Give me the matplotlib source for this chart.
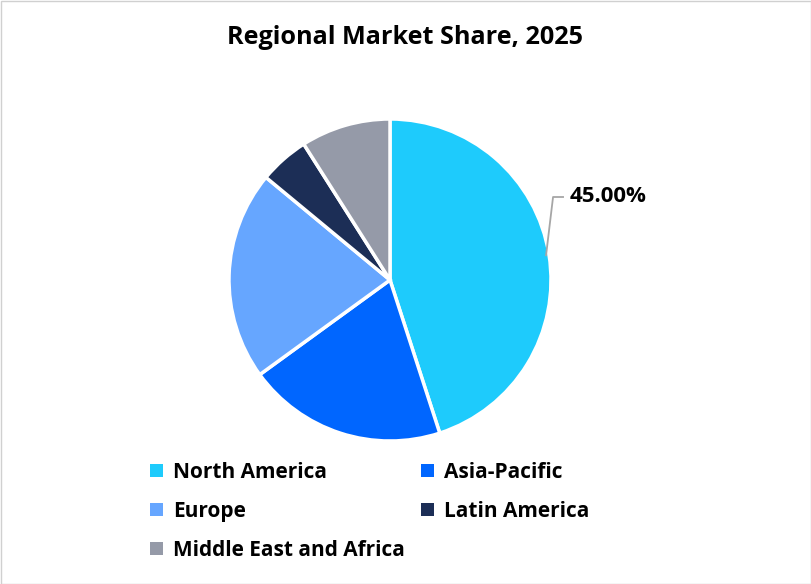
import numpy as np
import matplotlib
matplotlib.use("Agg")
from matplotlib import pyplot as plt
from matplotlib.patches import Rectangle

plt.rcParams['font.family'] = ['Open Sans', 'DejaVu Sans']

regions = ["North America", "Asia-Pacific", "Europe", "Latin America", "Middle East and Africa"]
shares = [45, 20, 21, 5, 9]
colors = ["#1ECBFC", "#0066FF", "#66A6FF", "#1C2E56", "#959AA8"]
title = "Regional Market Share, 2025"

W, H = 812, 584
fig = plt.figure(figsize=(W / 100, H / 100), dpi=100)
ax = fig.add_axes([0, 0, 1, 1])

cx, cy, r = 390, H - 280, 161
wedges, _ = ax.pie(shares, colors=colors, startangle=90, counterclock=False,
                   center=(cx, cy), radius=r, frame=True,
                   wedgeprops=dict(edgecolor="white", linewidth=2.5))
ax.set_xlim(0, W)
ax.set_ylim(0, H)
ax.axis("off")

# label only the biggest slice, with a leader line
w = wedges[0]
mid = np.deg2rad((w.theta1 + w.theta2) / 2)
x0 = cx + (r - 3) * np.cos(mid)
y0 = cy + (r - 3) * np.sin(mid)
ytxt = H - 197
ax.plot([x0, x0 + 7, x0 + 17], [y0, ytxt, ytxt], color="#A6A6A6", lw=1.3)
ax.text(x0 + 24, ytxt, f"{shares[0] / sum(shares) * 100:.2f}%", fontsize=16,
        fontweight="bold", va="center", ha="left")

fig.text(405 / W, 1 - 37 / H, title, fontsize=18.2, fontweight="bold", ha="center", va="center")

order = [0, 2, 4, 1, 3]
leg = fig.legend([wedges[i] for i in order], [regions[i] for i in order],
                 ncol=2, loc="upper left", bbox_to_anchor=(150 / W, 1 - 462 / H),
                 borderpad=0, borderaxespad=0,
                 frameon=False, fontsize=15, handlelength=0.62, handleheight=0.62,
                 handletextpad=0.5, columnspacing=0.75, labelspacing=0.86)
for t in leg.get_texts():
    t.set_fontweight("bold")
for h in leg.legend_handles:
    h.set_edgecolor("none")

fig.patches.append(Rectangle((0.5 / W, 0.5 / H), 1 - 1 / W, 1 - 1 / H, transform=fig.transFigure,
                             fill=False, edgecolor="#D0D0D0", lw=1))

fig.savefig("out.png", dpi=100)
